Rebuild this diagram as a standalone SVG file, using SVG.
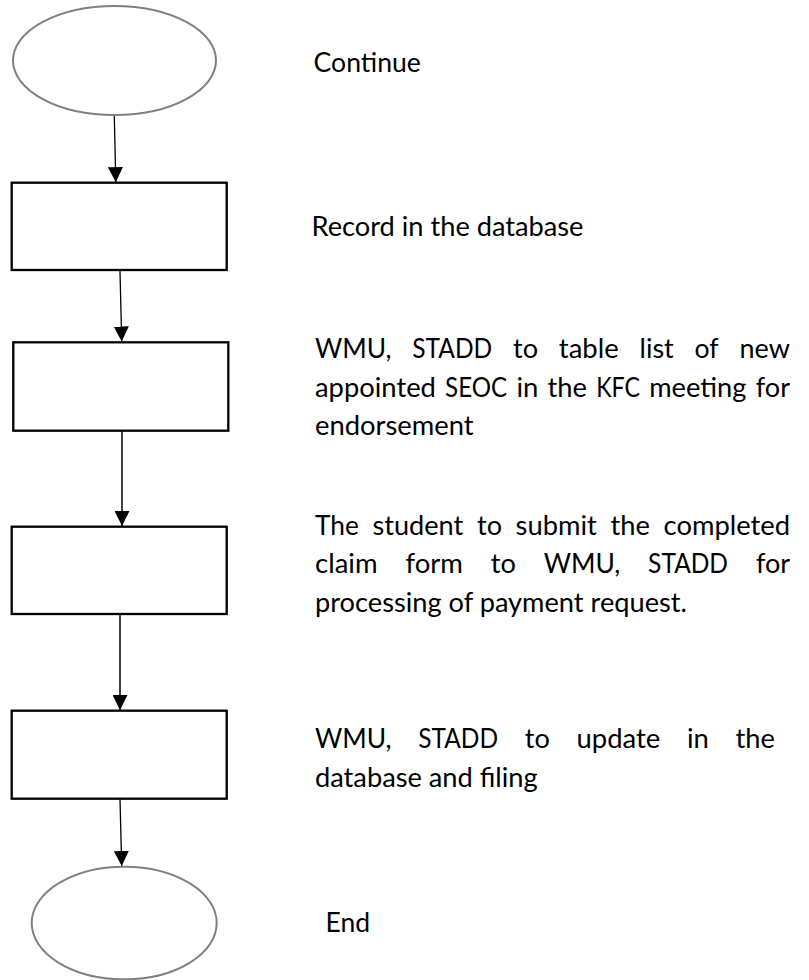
<svg xmlns="http://www.w3.org/2000/svg" width="809" height="980" viewBox="0 0 809 980">
<style>
  .oval { fill: #ffffff; stroke: #808080; stroke-width: 2; }
  .box { fill: #ffffff; stroke: #000000; stroke-width: 2.3; }
  .thin { stroke: #000000; stroke-width: 1.3; fill: none; }
  .thick { stroke: #404040; stroke-width: 2; fill: none; }
  .lbl { font-family: "Lato", "Liberation Sans", sans-serif; font-size: 26px; fill: #000000; }
</style>
<defs>
  <marker id="ah" viewBox="0 0 15 15" markerWidth="15" markerHeight="15" markerUnits="userSpaceOnUse" refX="15" refY="7.5" orient="auto">
    <path d="M0,0 L15,7.5 L0,15 Z" fill="#000000"/>
  </marker>
</defs>
<rect width="809" height="980" fill="#ffffff"/>

<g id="connectors">
  <line class="thin" x1="114.3" y1="116" x2="115.8" y2="182.2" marker-end="url(#ah)"/>
  <line class="thin" x1="120" y1="271" x2="121.7" y2="341.5" marker-end="url(#ah)"/>
  <line class="thick" x1="122" y1="431" x2="122" y2="526" marker-end="url(#ah)"/>
  <line class="thick" x1="120" y1="614.5" x2="120" y2="710" marker-end="url(#ah)"/>
  <line class="thin" x1="120" y1="799" x2="121.7" y2="866" marker-end="url(#ah)"/>
</g>

<g id="node-continue">
  <ellipse class="oval" cx="114.5" cy="60.5" rx="101.5" ry="54.5"/>
  <text class="lbl" x="313.6" y="72.3" textLength="107.2" lengthAdjust="spacingAndGlyphs">Continue</text>
</g>

<g id="node-record">
  <rect class="box" x="11.7" y="182.7" width="215" height="87.3"/>
  <text class="lbl" x="311.5" y="236" textLength="272" lengthAdjust="spacingAndGlyphs">Record in the database</text>
</g>

<g id="node-table">
  <rect class="box" x="13.3" y="342.3" width="215" height="88.4"/>
  <text class="lbl" y="358"><tspan x="315" textLength="76.5" lengthAdjust="spacingAndGlyphs">WMU,</tspan><tspan x="412.3" textLength="79.9" lengthAdjust="spacingAndGlyphs">STADD</tspan><tspan x="513" textLength="25" lengthAdjust="spacingAndGlyphs">to</tspan><tspan x="558.8" textLength="59.9" lengthAdjust="spacingAndGlyphs">table</tspan><tspan x="639.5" textLength="34.3" lengthAdjust="spacingAndGlyphs">list</tspan><tspan x="694.6" textLength="24.1" lengthAdjust="spacingAndGlyphs">of</tspan><tspan x="739.5" textLength="50.4" lengthAdjust="spacingAndGlyphs">new</tspan></text>
  <text class="lbl" y="396.7"><tspan x="315" textLength="120.9" lengthAdjust="spacingAndGlyphs">appointed</tspan><tspan x="445.1" textLength="62.1" lengthAdjust="spacingAndGlyphs">SEOC</tspan><tspan x="516.5" textLength="21.9" lengthAdjust="spacingAndGlyphs">in</tspan><tspan x="547.6" textLength="39.4" lengthAdjust="spacingAndGlyphs">the</tspan><tspan x="596.2" textLength="43.8" lengthAdjust="spacingAndGlyphs">KFC</tspan><tspan x="649.2" textLength="97.3" lengthAdjust="spacingAndGlyphs">meeting</tspan><tspan x="755.8" textLength="34.2" lengthAdjust="spacingAndGlyphs">for</tspan></text>
  <text class="lbl" x="315" y="435.4" textLength="158.6" lengthAdjust="spacingAndGlyphs">endorsement</text>
</g>

<g id="node-submit">
  <rect class="box" x="11.7" y="526.7" width="215" height="87.3"/>
  <text class="lbl" y="534.5"><tspan x="315" textLength="43.8" lengthAdjust="spacingAndGlyphs">The</tspan><tspan x="372.4" textLength="90.9" lengthAdjust="spacingAndGlyphs">student</tspan><tspan x="477" textLength="25" lengthAdjust="spacingAndGlyphs">to</tspan><tspan x="515.6" textLength="81.3" lengthAdjust="spacingAndGlyphs">submit</tspan><tspan x="610.6" textLength="39.4" lengthAdjust="spacingAndGlyphs">the</tspan><tspan x="663.6" textLength="126.4" lengthAdjust="spacingAndGlyphs">completed</tspan></text>
  <text class="lbl" y="573"><tspan x="315" textLength="62.6" lengthAdjust="spacingAndGlyphs">claim</tspan><tspan x="405.5" textLength="57.4" lengthAdjust="spacingAndGlyphs">form</tspan><tspan x="490.8" textLength="25" lengthAdjust="spacingAndGlyphs">to</tspan><tspan x="543.7" textLength="76.5" lengthAdjust="spacingAndGlyphs">WMU,</tspan><tspan x="648.1" textLength="79.9" lengthAdjust="spacingAndGlyphs">STADD</tspan><tspan x="755.9" textLength="34.2" lengthAdjust="spacingAndGlyphs">for</tspan></text>
  <text class="lbl" x="315" y="611.5" textLength="372" lengthAdjust="spacingAndGlyphs">processing of payment request.</text>
</g>

<g id="node-update">
  <rect class="box" x="11.7" y="710.7" width="215" height="88"/>
  <text class="lbl" y="747.5"><tspan x="315" textLength="76.5" lengthAdjust="spacingAndGlyphs">WMU,</tspan><tspan x="418.2" textLength="79.9" lengthAdjust="spacingAndGlyphs">STADD</tspan><tspan x="524.8" textLength="25" lengthAdjust="spacingAndGlyphs">to</tspan><tspan x="576.5" textLength="83.7" lengthAdjust="spacingAndGlyphs">update</tspan><tspan x="686.9" textLength="21.9" lengthAdjust="spacingAndGlyphs">in</tspan><tspan x="735.5" textLength="39.4" lengthAdjust="spacingAndGlyphs">the</tspan></text>
  <text class="lbl" x="315" y="786.5" textLength="222.7" lengthAdjust="spacingAndGlyphs">database and filing</text>
</g>

<g id="node-end">
  <ellipse class="oval" cx="124.2" cy="923" rx="92.5" ry="56.3"/>
  <text class="lbl" x="325.5" y="932" textLength="44.6" lengthAdjust="spacingAndGlyphs">End</text>
</g>
</svg>
